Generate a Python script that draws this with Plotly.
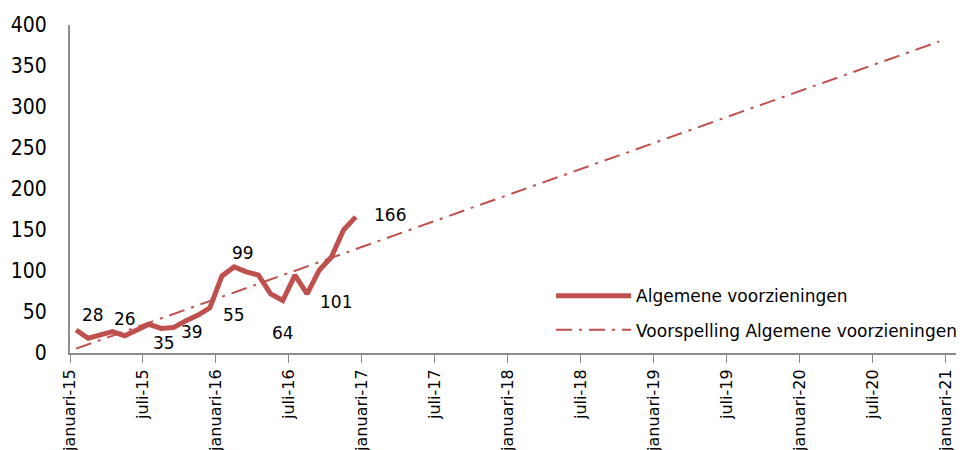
import plotly.graph_objects as go

# ---- data ----
# Algemene voorzieningen, monthly jan-15 .. dec-16
actual_values = [28, 18, 22, 26, 21, 28, 35, 30, 31, 39, 46, 55,
                 94, 105, 99, 95, 72, 64, 95, 72, 101, 117, 150, 166]

# Forecast trend line: start (jan-15) and end (dec-20) values
forecast_months = [0, 71]
forecast_values = [5.3, 380]

# labelled points (index into actual_values) and label offsets (px)
label_idx = [0, 3, 6, 9, 11, 14, 17, 20, 23]
label_dx = [17, 12, 15, 6, 24, -3, 0, 17, 34]
label_dy = [15, 13, -19, -11, -7, 19, -32, -32, 2]

tick_months = list(range(0, 73, 6))
tick_text = [("januari-" if m % 12 == 0 else "juli-") + str(15 + m // 12) for m in tick_months]
tick_pos = [m - 0.5 for m in tick_months]

RED = "#C0504D"
FONT = "DejaVu Sans"

x_actual = list(range(len(actual_values)))

fig = go.Figure()
fig.add_trace(go.Scatter(
    x=x_actual, y=actual_values, mode="lines",
    name="Algemene voorzieningen", legendgroup="a",
    line=dict(color=RED, width=5),
))
fig.add_trace(go.Scatter(
    x=forecast_months, y=forecast_values, mode="lines",
    name="Voorspelling Algemene voorzieningen", legendgroup="b",
    line=dict(color=RED, width=2, dash="16px,7px,3px,7px"),
))

for i, dx, dy in zip(label_idx, label_dx, label_dy):
    fig.add_annotation(
        x=x_actual[i], y=actual_values[i], text=str(actual_values[i]),
        showarrow=False, xshift=dx, yshift=dy,
        font=dict(family=FONT, size=17, color="#000000"),
    )

fig.update_layout(
    width=956, height=442,
    margin=dict(l=62, r=4, t=17, b=97, autoexpand=False),
    paper_bgcolor="white", plot_bgcolor="white",
    font=dict(family=FONT, color="#000000"),
    showlegend=True,
    legend=dict(
        x=0.5405, y=0.228, xanchor="left", yanchor="top",
        bgcolor="rgba(0,0,0,0)",
        font=dict(family=FONT, size=17, color="#000000"),
        tracegroupgap=9, itemwidth=75,
    ),
    xaxis=dict(
        range=[-0.5, 72.7],
        tickmode="array", tickvals=tick_pos, ticktext=tick_text,
        tickangle=-90, ticks="outside", ticklen=8, tickcolor="#8c8c8c",
        showline=True, linecolor="#8c8c8c", linewidth=2,
        showgrid=False, zeroline=False, automargin=False,
        tickfont=dict(family=FONT, size=16, color="#000000"),
    ),
    yaxis=dict(
        range=[0, 400], tickmode="linear", tick0=0, dtick=50,
        showline=True, linecolor="#8c8c8c", linewidth=2,
        showgrid=False, zeroline=False, automargin=False,
        ticks="", ticklabelstandoff=17,
        tickfont=dict(family="DejaVu Sans Condensed", size=21, color="#000000"),
    ),
)

fig.write_html("out.html")
